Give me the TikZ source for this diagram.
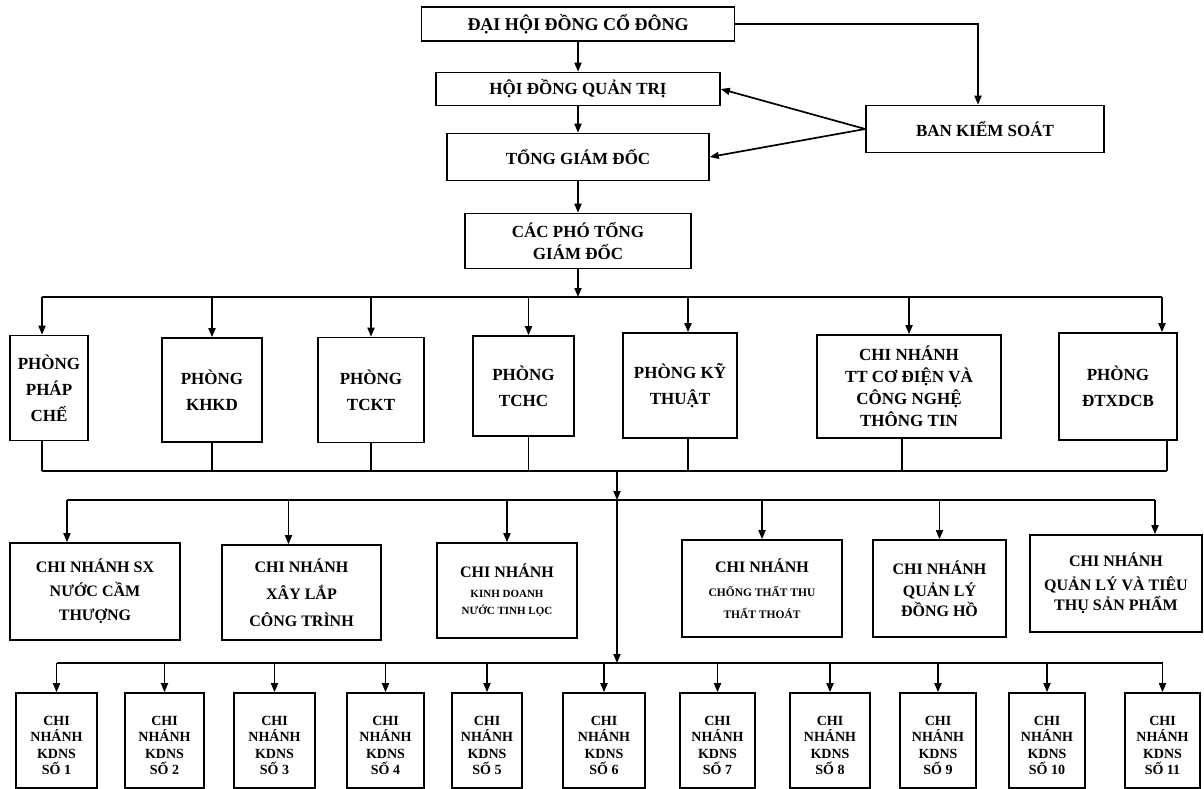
\documentclass[tikz,border=0pt]{standalone}
\usepackage{fontspec}
\setmainfont{Liberation Serif}
\usetikzlibrary{arrows.meta}
\tikzset{
  box/.style={draw, line width=1.6pt, align=center, inner sep=1pt, font=\fontsize{17}{22}\selectfont\bfseries},
  rowtwo/.style={font=\fontsize{17}{26}\selectfont\bfseries},
  rowthree/.style={font=\fontsize{16}{24}\selectfont\bfseries},
  small/.style={align=center, inner sep=0pt, font=\fontsize{14}{16.5}\selectfont\bfseries},
  arr/.style={line width=1.7pt, -{Triangle[length=9pt,width=7pt]}},
  ln/.style={line width=1.7pt}
}
\begin{document}
\begin{tikzpicture}[x=1pt,y=-1pt]
\useasboundingbox (0,0) rectangle (1204,789);
\clip (0,0) rectangle (1204,789);
% top
\node[box, font=\fontsize{18}{22}\selectfont\bfseries, minimum width=313pt, minimum height=34pt] (dhd) at (578,24) {ĐẠI HỘI ĐỒNG CỔ ĐÔNG};
\node[box, minimum width=284pt, minimum height=33pt] (hdqt) at (578,89) {HỘI ĐỒNG QUẢN TRỊ};
\node[box, minimum width=238pt, minimum height=47pt] (bks) at (985,129) {BAN KIỂM SOÁT};
\node[box, minimum width=262pt, minimum height=47pt] (tgd) at (578,157) {TỔNG GIÁM ĐỐC};
\node[box, minimum width=226pt, minimum height=55pt] (ptgd) at (578,241) {CÁC PHÓ TỔNG\\GIÁM ĐỐC};
\draw[arr] (dhd.south) -- (hdqt.north);
\draw[arr] (hdqt.south) -- (tgd.north);
\draw[arr] (tgd.south) -- (ptgd.north);
\coordinate (bksin) at ([xshift=-7pt]bks.north);
\draw[arr] (dhd.east) -| (bksin);
\draw[arr] (bks.west) -- (hdqt.east);
\draw[arr] (bks.west) -- (tgd.east);
% row 2
\node[box, rowtwo, minimum width=78pt, minimum height=105pt] (pc) at (49,388) {PHÒNG\\PHÁP\\CHẾ};
\node[box, rowtwo, minimum width=100pt, minimum height=104pt] (khkd) at (212,390) {PHÒNG\\KHKD};
\node[box, rowtwo, minimum width=106pt, minimum height=105pt] (tckt) at (371,390) {PHÒNG\\TCKT};
\node[box, rowtwo, minimum width=101pt, minimum height=100pt] (tchc) at (523.5,386) {PHÒNG\\TCHC};
\node[box, rowtwo, minimum width=114pt, minimum height=105pt] (kt) at (680,385.5) {PHÒNG KỸ\\THUẬT};
\node[box, minimum width=184pt, minimum height=103pt] (cn) at (909,386.5) {CHI NHÁNH\\TT CƠ ĐIỆN VÀ\\CÔNG NGHỆ\\THÔNG TIN};
\node[box, rowtwo, minimum width=118pt, minimum height=107pt] (dt) at (1118,386.5) {PHÒNG\\ĐTXDCB};
\coordinate (b1) at (578,297);
\draw[arr] (ptgd.south) -- (b1);
\coordinate (pcin) at ([xshift=-7pt]pc.north);
\coordinate (tchcin) at ([xshift=5pt]tchc.north);
\coordinate (ktin) at ([xshift=8pt]kt.north);
\coordinate (dtin) at ([xshift=44pt]dt.north);
\draw[ln] (pcin |- b1) -- (dtin |- b1);
\foreach \t in {pcin,khkd.north,tckt.north,tchcin,ktin,cn.north,dtin}
  \draw[arr] (\t |- b1) -- (\t);
\coordinate (b2) at (617,471);
\coordinate (pcout) at ([xshift=-7pt]pc.south);
\coordinate (tchcout) at ([xshift=5pt]tchc.south);
\coordinate (ktout) at ([xshift=8pt]kt.south);
\coordinate (cnout) at ([xshift=-7pt]cn.south);
\coordinate (dtout) at ([xshift=49pt]dt.south);
\draw[ln] (pcout |- b2) -- (dtout |- b2);
\foreach \t in {pcout,khkd.south,tckt.south,tchcout,ktout,cnout,dtout}
  \draw[ln] (\t) -- (\t |- b2);
% row 3
\node[box, rowthree, minimum width=170pt, minimum height=97pt] (sx) at (95,591.5) {CHI NHÁNH SX\\NƯỚC CẦM\\THƯỢNG};
\node[box, rowthree, font=\fontsize{16}{27}\selectfont\bfseries, minimum width=159pt, minimum height=95pt] (xl) at (301.5,592.5) {CHI NHÁNH\\XÂY LẮP\\CÔNG TRÌNH};
\node[box, rowthree, minimum width=140pt, minimum height=95pt] (kd) at (507,590.5) {CHI NHÁNH\\[-4pt]{\fontsize{11}{12}\selectfont KINH DOANH}\\[-7pt]{\fontsize{11}{12}\selectfont NƯỚC TINH LỌC}};
\node[box, rowthree, minimum width=160pt, minimum height=97pt] (ct) at (762,588.5) {CHI NHÁNH\\{\fontsize{11.5}{13}\selectfont CHỐNG THẤT THU}\\[-2pt]{\fontsize{11.5}{13}\selectfont THẤT THOÁT}};
\node[box, rowthree, minimum width=133pt, minimum height=97pt] (dh) at (939.5,588.5) {CHI NHÁNH\\[-2pt]QUẢN LÝ\\[-4pt]ĐỒNG HỒ};
\node[box, rowthree, minimum width=172pt, minimum height=97pt] (tt) at (1116,583.5) {CHI NHÁNH\\QUẢN LÝ VÀ TIÊU\\[-4pt]THỤ SẢN PHẨM};
\coordinate (b3) at (617,500);
\draw[arr] (b2) -- (b3);
\coordinate (sxin) at ([xshift=-28pt]sx.north);
\coordinate (xlin) at ([xshift=-13pt]xl.north);
\coordinate (ttin) at ([xshift=39pt]tt.north);
\draw[ln] (sxin |- b3) -- (ttin |- b3);
\foreach \t in {sxin,xlin,kd.north,ct.north,dh.north,ttin}
  \draw[arr] (\t |- b3) -- (\t);
% row 4
\coordinate (b4) at (617,663);
\draw[arr] (b3) -- (b4);
\foreach \i/\xa/\xb in {1/16/97,2/125/204,3/234/315,4/347/424,5/452/522,6/563/645,7/680/755,8/790/870,9/900/976,10/1009/1085,11/1125/1200}{
  \node[box, minimum width={(\xb-\xa)*1pt}, minimum height=95pt] (k\i) at ({(\xa+\xb)/2},740.5) {};
  \node[small] (kl\i) at ([yshift=-5pt]k\i.center) {CHI\\NHÁNH\\KDNS\\SỐ \i};
}
\draw[ln] (k1.north |- b4) -- (k11.north |- b4);
\foreach \i in {1,...,11}
  \draw[arr] (k\i.north |- b4) -- (k\i.north);
\end{tikzpicture}
\end{document}
